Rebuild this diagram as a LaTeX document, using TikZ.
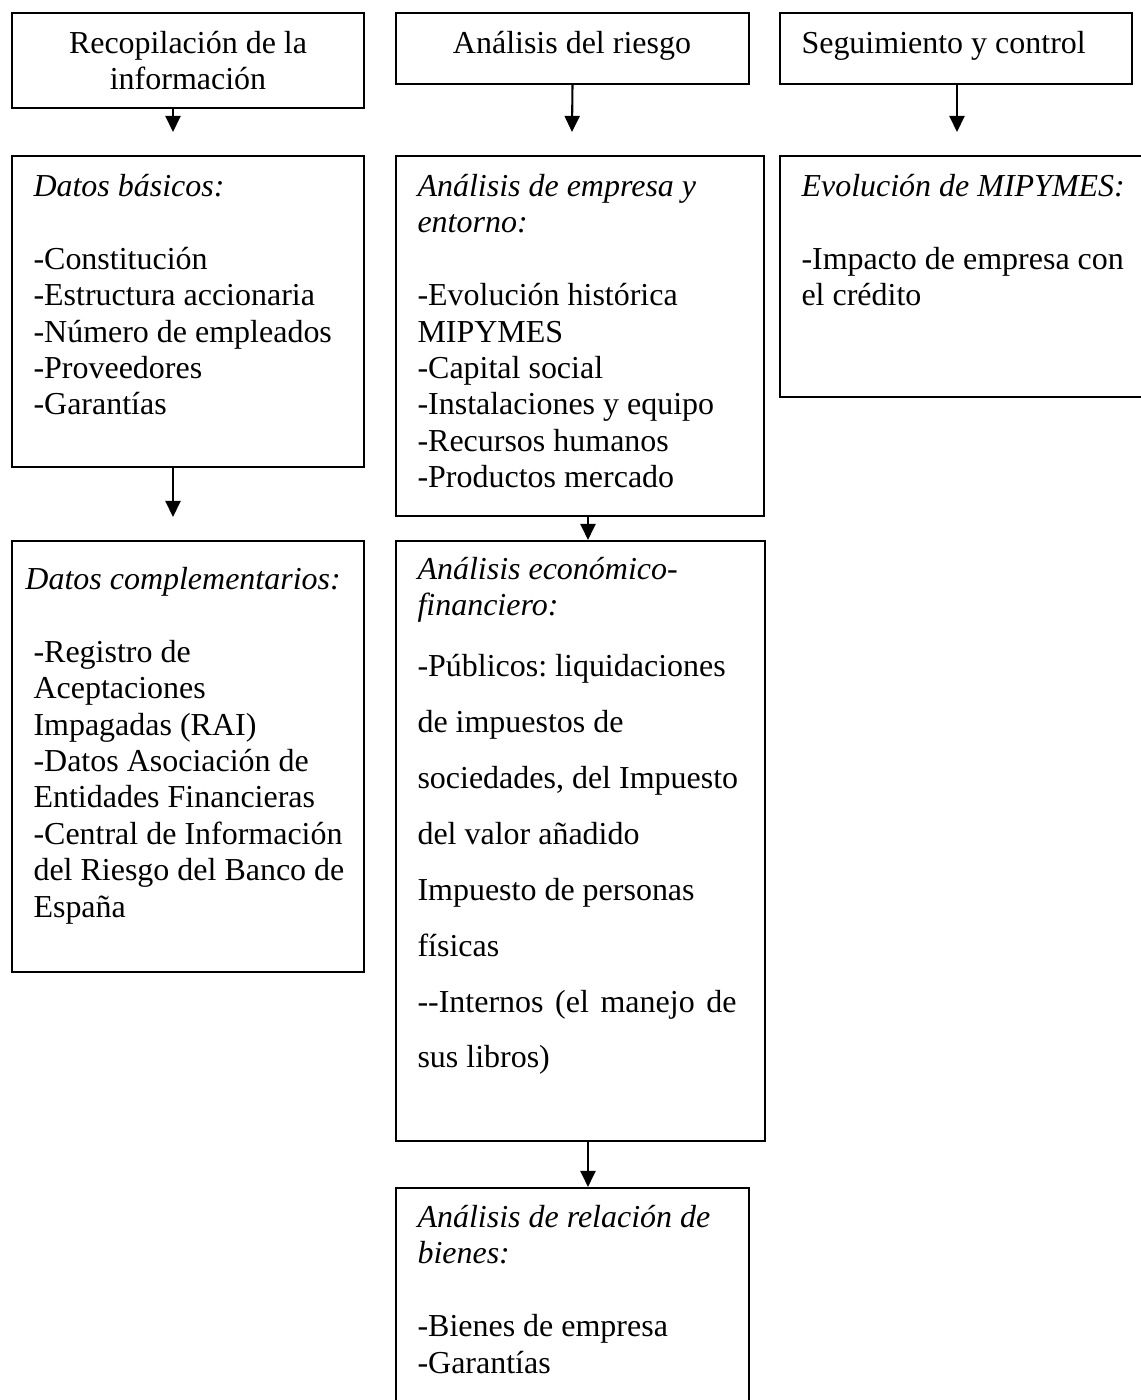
\documentclass[tikz,border=0pt]{standalone}
\usepackage{fontspec}
\setmainfont{Liberation Serif}
\usetikzlibrary{arrows.meta,fit}
\newcommand{\tope}{\rule{0pt}{11pt}}
\tikzset{
  caja/.style={draw, line width=0.8pt, inner sep=0pt},
  texto/.style={inner sep=0pt, align=left, anchor=north west, font=\fontsize{12.3pt}{14pt}\selectfont\frenchspacing},
  titulo/.style={texto, align=center, anchor=north},
  flecha/.style={line width=0.8pt, -{Triangle[length=6.2pt,width=5.8pt]}}
}
\begin{document}
\begin{tikzpicture}[x=0.3846pt,y=-0.3846pt]
\useasboundingbox (0,0) rectangle (1141,1400);
\node[caja, fit={(12,13) (364,108)}] (recop) {};
\node[caja, fit={(396,13) (749,84)}] (riesgo) {};
\node[caja, fit={(780,13) (1132,84)}] (seguim) {};
\node[caja, fit={(12,156) (364,467)}] (basicos) {};
\node[caja, fit={(396,156) (764,516)}] (empresa) {};
\node[caja, fit={(780,156) (1150,397)}] (evol) {};
\node[caja, fit={(12,541) (364,972)}] (complem) {};
\node[caja, fit={(396,541) (765,1141)}] (econ) {};
\node[caja, fit={(396,1188) (749,1410)}] (bienes) {};
\node[titulo] (recoptxt) at (188,24.4) {\tope Recopilación de la\\información};
\node[titulo] (riesgotxt) at (572,24.4) {\tope Análisis del riesgo};
\node[texto] (seguimtxt) at (801,24.4) {\tope Seguimiento y control};
\node[texto] (basicostxt) at (33,167.4) {\tope\itshape Datos básicos:\\[14pt]
  -Constitución\\-Estructura accionaria\\-Número de empleados\\-Proveedores\\-Garantías};
\node[texto] (empresatxt) at (417,167.4) {\tope\textit{Análisis de empresa y}\\\textit{entorno:}\\[14pt]
  -Evolución histórica\\MIPYMES\\-Capital social\\-Instalaciones y equipo\\-Recursos humanos\\-Productos mercado};
\node[texto] (evoltxt) at (801,167.4) {\tope\textit{Evolución de MIPYMES:}\\[14pt]
  -Impacto de empresa con\\el crédito};
\node[texto] (complemtxt) at (33,560.4) {\tope\hspace*{-3.1pt}\textit{Datos complementarios:}\\[14pt]
  -Registro de\\Aceptaciones\\Impagadas (RAI)\\-Datos Asociación de\\Entidades Financieras\\-Central de Información\\del Riesgo del Banco de\\España};
\node[texto] (econtxt) at (417,550) {\tope\textit{Análisis económico-}\\\textit{financiero:}\\[9.5pt]
  -Públicos: liquidaciones\\[7.5pt]de impuestos de\\[7.5pt]sociedades, del Impuesto\\[7.5pt]del valor añadido\\[7.5pt]Impuesto de personas\\[7.5pt]físicas\\[7.5pt]\makebox[122.7pt][s]{-{}-Internos (el manejo de}\\[7.5pt]sus libros)};
\node[texto] (bienestxt) at (417,1198.4) {\tope\textit{Análisis de relación de}\\\textit{bienes:}\\[14pt]
  -Bienes de empresa\\-Garantías};
\coordinate (colA) at (173,0);
\coordinate (colB) at (588,0);
\coordinate (colC) at (957,0);
\coordinate (puntaA) at (173,132);
\coordinate (puntaB) at (572,132);
\coordinate (puntaC) at (957,132);
\coordinate (puntaD) at (173,517);
\draw[flecha] (recop.south -| colA) -- (puntaA);
\draw[flecha] (riesgo.south) -- (puntaB);
\draw[flecha] (seguim.south -| colC) -- (puntaC);
\draw[flecha] (basicos.south -| colA) -- (puntaD);
\draw[flecha] (empresa.south -| colB) -- (econ.north -| colB);
\draw[flecha] (econ.south -| colB) -- (bienes.north -| colB);
\end{tikzpicture}
\end{document}
